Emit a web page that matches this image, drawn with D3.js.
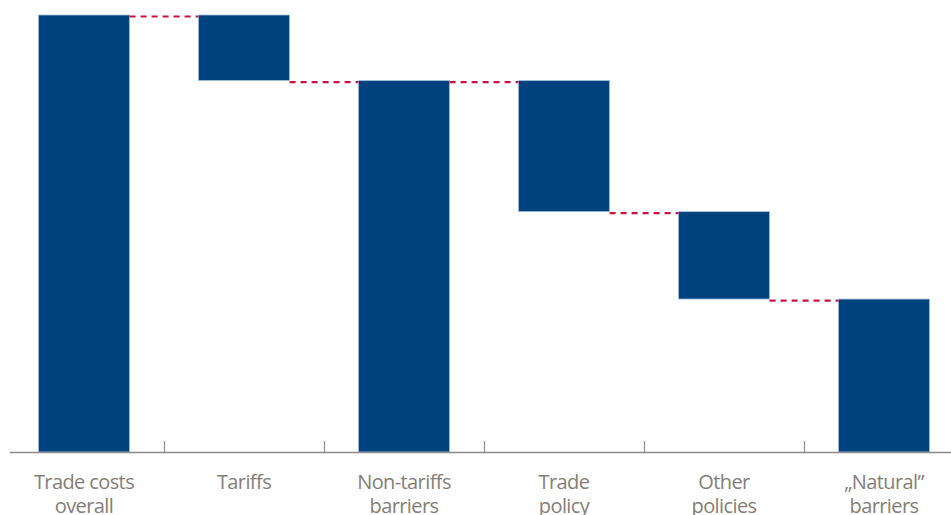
<!DOCTYPE html>
<html><head><meta charset="utf-8">
<script src="https://cdn.jsdelivr.net/npm/d3@7"></script>
<style>
html,body{margin:0;padding:0;background:#fff;}
svg{display:block;}
</style></head>
<body><svg id="c" width="951" height="515"></svg>
<script>
const categories = ["Trade costs overall","Tariffs","Non-tariffs barriers","Trade policy","Other policies","\u201eNatural\u201d barriers"];
const labelLines = [["Trade costs","overall"],["Tariffs"],["Non-tariffs","barriers"],["Trade","policy"],["Other","policies"],["\u201eNatural\u201d","barriers"]];
const values = [100, -15, 85, -30, -20, 35];
const isTotal = [true, false, true, false, false, true];

// compute waterfall start/end
let running = 0;
const bars = categories.map((c,i)=>{
  let y0,y1;
  if(isTotal[i]){ y0 = 0; y1 = values[i]; running = values[i]; }
  else { y0 = running; y1 = running + values[i]; running = y1; }
  return {cat:c, lines:labelLines[i], lo:Math.min(y0,y1), hi:Math.max(y0,y1), end:running};
});

const svg = d3.select("#c");
const x = d3.scaleBand().domain(categories).range([4,964]).paddingInner(0.43).paddingOuter(0.215);
const y = d3.scaleLinear().domain([0,100]).range([452,15]);

const gap = (x.step()-x.bandwidth())/2;

// bars
svg.append("g").selectAll("rect").data(bars).join("rect")
  .attr("x",d=>x(d.cat)).attr("width",x.bandwidth())
  .attr("y",d=>y(d.hi)).attr("height",d=>y(d.lo)-y(d.hi))
  .attr("fill","#00427e").attr("stroke","#a8c2dc").attr("stroke-width",0.8);

// connectors
const conn = bars.slice(0,-1).map((d,i)=>({x1:x(d.cat)+x.bandwidth(), x2:x(bars[i+1].cat), v:d.end}));
svg.append("g").selectAll("line").data(conn).join("line")
  .attr("x1",d=>d.x1).attr("x2",d=>d.x2)
  .attr("y1",d=>y(d.v)+1.5).attr("y2",d=>y(d.v)+1.5)
  .attr("stroke","#cc1040").attr("stroke-width",2.2).attr("stroke-dasharray","6,5");

// axis line
svg.append("line").attr("x1",10).attr("x2",951).attr("y1",y(0)+0.5).attr("y2",y(0)+0.5)
  .attr("stroke","#8a8a8a").attr("stroke-width",1.3);
// ticks at band boundaries
const bounds = categories.slice(1).map(c=>x(c)-gap);
svg.append("g").selectAll("line").data(bounds).join("line")
  .attr("x1",d=>d+0.5).attr("x2",d=>d+0.5).attr("y1",y(0)-11).attr("y2",y(0))
  .attr("stroke","#8a8a8a").attr("stroke-width",1.2);

// labels
const lab = svg.append("g").attr("font-family","'Open Sans', sans-serif").attr("font-size",20)
  .attr("letter-spacing","-0.6px")
  .attr("fill","#857e77").attr("text-anchor","middle");
bars.forEach(d=>{
  const t = lab.append("text").attr("x",x(d.cat)+x.bandwidth()/2).attr("y",489);
  d.lines.forEach((l,j)=>t.append("tspan").attr("x",x(d.cat)+x.bandwidth()/2).attr("dy",j?24:0).text(l));
});
</script></body></html>
